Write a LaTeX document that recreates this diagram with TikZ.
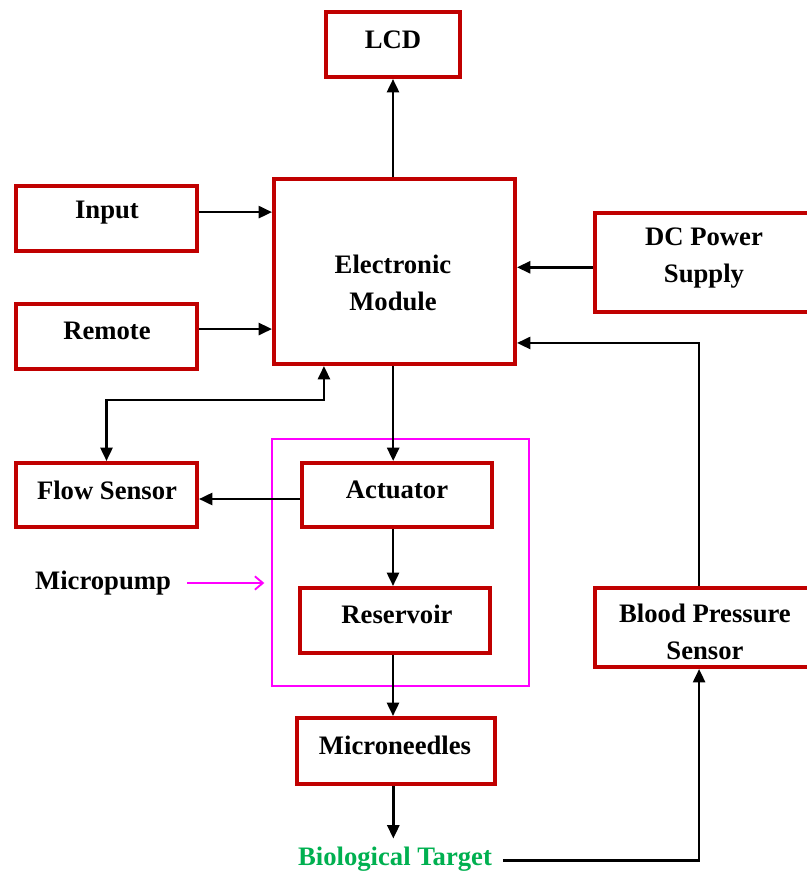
\documentclass[tikz,border=0pt]{standalone}
\usepackage{fontspec}
\setmainfont{Liberation Serif}
\usetikzlibrary{arrows.meta,fit,calc}
\definecolor{boxred}{RGB}{192,0,0}
\definecolor{mag}{RGB}{255,0,255}
\definecolor{bgreen}{RGB}{0,176,80}
\begin{document}
\begin{tikzpicture}[x=0.75pt,y=-0.75pt,
  box/.style={draw=boxred,line width=3pt,inner sep=0pt},
  lbl/.style={font=\fontsize{20}{27.75}\selectfont\bfseries,align=center,inner sep=0pt},
  arr/.style={line width=1.9pt,-{Triangle[length=10pt,width=9pt]}},
  dblarr/.style={line width=1.9pt,{Triangle[length=10pt,width=9pt]}-{Triangle[length=10pt,width=9pt]}},
  magarr/.style={draw=mag,line width=1.4pt,-{Straight Barb[length=6pt,width=10pt]}}
]
\useasboundingbox (0,0) rectangle (807,872);
\clip (0,0) rectangle (807,872);

% boxes
\node[box,fit={(326,12)(460,77)}] (lcd) {};
\node[box,fit={(16,186)(197,251)}] (inp) {};
\node[box,fit={(16,304)(197,369)}] (rem) {};
\node[box,fit={(274,179)(515,364)}] (em) {};
\node[box,fit={(595,213)(812,312)}] (dc) {};
\node[box,fit={(16,463)(197,527)}] (fs) {};
\node[draw=mag,line width=1.5pt,inner sep=0pt,fit={(272,439)(529,686)}] (mp) {};
\node[box,fit={(302,463)(492,527)}] (act) {};
\node[box,fit={(300,588)(490,653)}] (res) {};
\node[box,fit={(297,718)(495,784)}] (mn) {};
\node[box,fit={(595,588)(812,667)}] (bp) {};

% labels
\node[lbl] (tlcd) at (393,40) {LCD};
\node[lbl] (tinp) at (107,213) {Input};
\node[lbl] (trem) at (107,331) {Remote};
\node[lbl] (tem) at (393,283) {Electronic\\Module};
\node[lbl] (tdc) at (704,258) {DC Power\\Supply};
\node[lbl] (tfs) at (107,490) {Flow Sensor};
\node[lbl] (tact) at (397,490) {Actuator};
\node[lbl] (tres) at (397,614) {Reservoir};
\node[lbl] (tmp) at (103,583) {Micropump};
\node[lbl] (tbp) at (705,632) {Blood Pressure\\Sensor};
\node[lbl] (tmn) at (395,745) {Microneedles};
\node[lbl,text=bgreen] (bt) at (395,859) {Biological Target};

% connectors
\draw[arr] (lcd.south |- em.north) -- (lcd.south);
\draw[arr] ([yshift=4.8pt]inp.east) -- ([yshift=4.8pt]inp.east -| em.west);
\draw[arr] ([yshift=5.6pt]rem.east) -- ([yshift=5.6pt]rem.east -| em.west);
\draw[arr] ([yshift=-3.6pt]dc.west) -- ([yshift=-3.6pt]dc.west -| em.east);
\draw[arr] ([xshift=-3.3pt]bp.north) |- ([yshift=-53.6pt]em.east);
\draw[arr] ([xshift=-1pt]em.south) -- ([xshift=-1pt]em.south |- act.north);
\draw[dblarr] (fs.north) -- ++(0,-61) -| ([xshift=-52.9pt]em.south);
\draw[arr] ([yshift=-3pt]act.west) -- ([yshift=-3pt]act.west -| fs.east);
\draw[arr] ([xshift=-3pt]act.south) -- ([xshift=-3pt]act.south |- res.north);
\draw[arr] ([xshift=-1.5pt]res.south) -- ([xshift=-1.5pt]res.south |- mn.north);
\draw[arr,shorten >=6pt] ([xshift=-2pt]mn.south) -- ([xshift=-2pt]mn.south |- bt.north);
\draw[arr] ([xshift=8pt,yshift=-1pt]bt.east) -| ([xshift=-3.3pt]bp.south);
\draw[magarr] ([xshift=12pt]tmp.east) -- ([xshift=-5pt]mp.west |- tmp.east);
\end{tikzpicture}
\end{document}
